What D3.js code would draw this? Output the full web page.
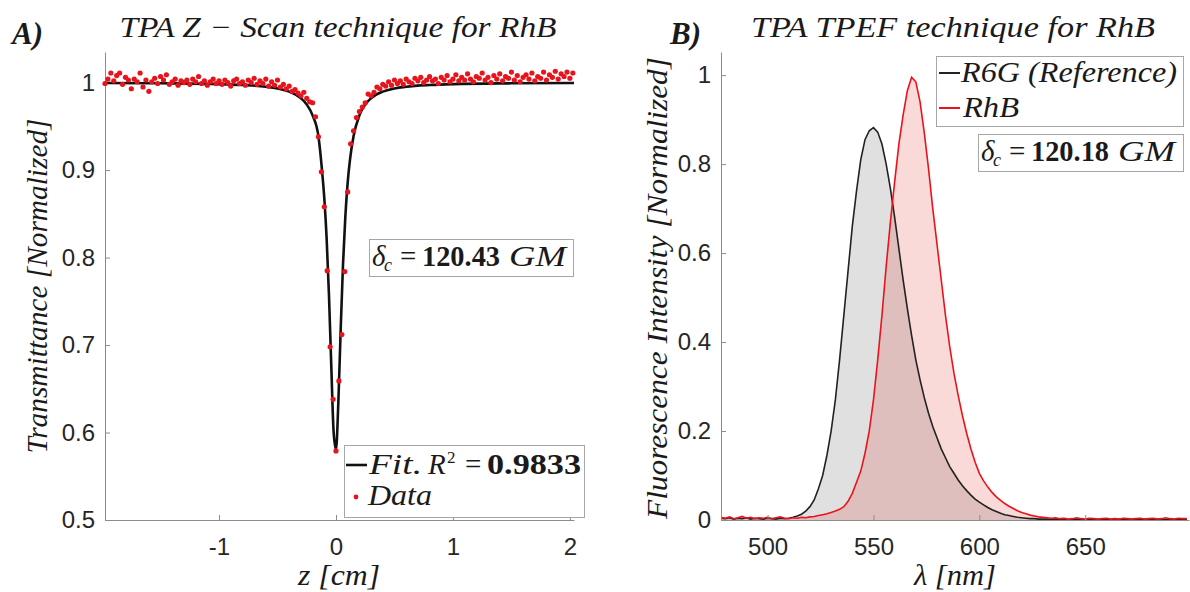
<!DOCTYPE html>
<html>
<head>
  <meta charset="utf-8">
  <title>TPA RhB</title>
  <style>
    body { margin: 0; background: #fff; }
    .tick text { font-family: "Liberation Sans", Arial, sans-serif; font-size: 24px; fill: #262626; }
    .domain, .tick line { stroke: #8c8c8c; stroke-width: 1; }
    .tex { font-style: italic; fill: #1a1a1a; }
    .bold { font-style: normal; font-weight: bold; }
    .up { font-style: normal; }
  </style>
</head>
<body>
<svg id="fig" width="1190" height="592"></svg>
<script src="https://d3js.org/d3.v7.min.js"></script>
<script>
// ---- panel A : z-scan data ----
const zPos = [
  -1.975, -1.95, -1.925, -1.9, -1.875, -1.85, -1.825, -1.8, -1.775, -1.75,
  -1.725, -1.7, -1.675, -1.65, -1.625, -1.6, -1.575, -1.55, -1.525, -1.5,
  -1.475, -1.45, -1.425, -1.4, -1.375, -1.35, -1.325, -1.3, -1.275, -1.25,
  -1.225, -1.2, -1.175, -1.15, -1.125, -1.1, -1.075, -1.05, -1.025, -1.0,
  -0.975, -0.95, -0.925, -0.9, -0.875, -0.85, -0.825, -0.8, -0.775, -0.75,
  -0.725, -0.7, -0.675, -0.65, -0.625, -0.6, -0.575, -0.55, -0.525, -0.5,
  -0.475, -0.45, -0.425, -0.4, -0.375, -0.35, -0.325, -0.3, -0.275, -0.25,
  -0.225, -0.2, -0.175, -0.15, -0.125, -0.1, -0.075, -0.05, -0.025, 0.0,
  0.025, 0.05, 0.075, 0.1, 0.125, 0.15, 0.175, 0.2, 0.225, 0.25,
  0.275, 0.3, 0.325, 0.35, 0.375, 0.4, 0.425, 0.45, 0.475, 0.5,
  0.525, 0.55, 0.575, 0.6, 0.625, 0.65, 0.675, 0.7, 0.725, 0.75,
  0.775, 0.8, 0.825, 0.85, 0.875, 0.9, 0.925, 0.95, 0.975, 1.0,
  1.025, 1.05, 1.075, 1.1, 1.125, 1.15, 1.175, 1.2, 1.225, 1.25,
  1.275, 1.3, 1.325, 1.35, 1.375, 1.4, 1.425, 1.45, 1.475, 1.5,
  1.525, 1.55, 1.575, 1.6, 1.625, 1.65, 1.675, 1.7, 1.725, 1.75,
  1.775, 1.8, 1.825, 1.85, 1.875, 1.9, 1.925, 1.95, 1.975, 2.0,
  2.025
];
const zTrans = [
  0.999, 1.004, 1.011, 1.002, 1.008, 1.011, 0.998, 1.006, 1.003, 0.993,
  1.004, 1.001, 1.011, 0.995, 1.003, 0.990, 1.001, 1.005, 0.999, 1.007,
  1.003, 1.009, 0.998, 1.001, 1.004, 0.997, 1.002, 1.000, 1.003, 0.998,
  1.004, 1.001, 1.007, 0.999, 1.002, 0.997, 1.001, 1.004, 0.999, 1.002,
  0.998, 1.003, 1.000, 0.996, 1.002, 1.004, 0.999, 1.001, 0.997, 1.003,
  1.000, 1.005, 0.998, 1.002, 0.999, 1.004, 0.996, 1.001, 0.997, 1.003,
  0.995, 0.998, 0.993, 0.996, 0.990, 0.992, 0.988, 0.985, 0.989, 0.982,
  0.978, 0.977, 0.961, 0.938, 0.898, 0.858, 0.785, 0.698, 0.638, 0.579,
  0.659, 0.712, 0.784, 0.875, 0.930, 0.945, 0.960, 0.967, 0.972, 0.977,
  0.987, 0.985, 0.989, 0.995, 0.993, 0.998, 0.996, 1.001, 0.997, 1.003,
  0.999, 1.002, 0.998, 1.004, 1.001, 0.999, 1.005, 1.002, 1.006, 1.000,
  1.003, 1.007, 1.002, 1.004, 0.999, 1.006, 1.003, 1.008, 1.001, 1.004,
  1.009, 1.002, 1.006, 1.003, 1.010, 1.004, 1.001, 1.007, 1.005, 1.011,
  1.003, 1.006, 1.000, 1.008, 1.004, 1.010, 1.002, 1.007, 1.005, 1.012,
  1.003, 1.008, 1.001, 1.006, 1.009, 1.004, 1.011, 1.002, 1.007, 1.005,
  1.012, 1.003, 1.009, 1.006, 1.013, 1.004, 1.010, 1.007, 1.012, 1.005,
  1.011
];
// fitted curve
const fitZ = [-1.975, -1.5, -1.0, -0.8, -0.6, -0.5, -0.4, -0.3, -0.25, -0.2, -0.15, -0.12, -0.1, -0.08,
  -0.06, -0.04, -0.02, 0, 0.02, 0.04, 0.06, 0.08, 0.1, 0.12, 0.15, 0.2, 0.25, 0.3, 0.4, 0.5, 0.6, 0.8,
  1.0, 1.5, 2.035];
const fitT = [0.9996, 0.9992, 0.9983, 0.9973, 0.9953, 0.9933, 0.9897, 0.9822, 0.975, 0.9625, 0.9386,
  0.9005, 0.868, 0.822, 0.757, 0.675, 0.600, 0.5805, 0.634, 0.7175, 0.792, 0.847, 0.886, 0.9123, 0.9386,
  0.9625, 0.975, 0.9822, 0.9897, 0.9933, 0.9953, 0.9973, 0.9983, 0.9992, 0.9996];
const zTicks = [-1, 0, 1, 2];
const tTicks = [0.5, 0.6, 0.7, 0.8, 0.9, 1];

// ---- panel B : TPEF spectra ----
const lambda = [
  478, 480, 482, 484, 486, 488, 490, 492, 494, 496,
  498, 500, 502, 504, 506, 508, 510, 512, 514, 516,
  518, 520, 522, 524, 526, 528, 530, 532, 534, 536,
  538, 540, 542, 544, 546, 548, 550, 552, 554, 556,
  558, 560, 562, 564, 566, 568, 570, 572, 574, 576,
  578, 580, 582, 584, 586, 588, 590, 592, 594, 596,
  598, 600, 602, 604, 606, 608, 610, 612, 614, 616,
  618, 620, 622, 624, 626, 628, 630, 632, 634, 636,
  638, 640, 642, 644, 646, 648, 650, 652, 654, 656,
  658, 660, 662, 664, 666, 668, 670, 672, 674, 676,
  678, 680, 682, 684, 686, 688, 690, 692, 694, 696,
  698
];
const r6g = [
  0.004, 0.003, 0.005, 0.002, 0.004, 0.003, 0.005, 0.002, 0.004, 0.003,
  0.002, 0.004, 0.003, 0.002, 0.004, 0.003, 0.004, 0.006, 0.009, 0.013,
  0.020, 0.030, 0.045, 0.070, 0.100, 0.145, 0.200, 0.270, 0.360, 0.460,
  0.560, 0.660, 0.740, 0.810, 0.855, 0.875, 0.882, 0.872, 0.845, 0.800,
  0.745, 0.680, 0.610, 0.540, 0.475, 0.415, 0.360, 0.315, 0.275, 0.240,
  0.210, 0.185, 0.160, 0.140, 0.120, 0.105, 0.090, 0.077, 0.066, 0.056,
  0.047, 0.040, 0.034, 0.028, 0.023, 0.019, 0.015, 0.012, 0.010, 0.008,
  0.006, 0.005, 0.004, 0.003, 0.003, 0.002, 0.002, 0.002, 0.001, 0.002,
  0.001, 0.002, 0.001, 0.001, 0.002, 0.001, 0.001, 0.002, 0.001, 0.001,
  0.001, 0.002, 0.001, 0.001, 0.002, 0.001, 0.001, 0.002, 0.001, 0.001,
  0.002, 0.001, 0.001, 0.002, 0.001, 0.001, 0.002, 0.001, 0.001, 0.002,
  0.001
];
const rhb = [
  0.006, 0.004, 0.007, 0.003, 0.005, 0.008, 0.004, 0.006, 0.003, 0.005,
  0.004, 0.006, 0.003, 0.005, 0.007, 0.004, 0.003, 0.005, 0.004, 0.006,
  0.005, 0.007, 0.008, 0.010, 0.012, 0.014, 0.017, 0.020, 0.024, 0.030,
  0.042, 0.060, 0.085, 0.110, 0.150, 0.200, 0.270, 0.360, 0.460, 0.570,
  0.670, 0.760, 0.845, 0.910, 0.965, 0.995, 0.985, 0.940, 0.870, 0.790,
  0.700, 0.620, 0.540, 0.460, 0.390, 0.330, 0.280, 0.235, 0.195, 0.160,
  0.130, 0.105, 0.088, 0.074, 0.062, 0.052, 0.044, 0.037, 0.031, 0.026,
  0.021, 0.017, 0.014, 0.011, 0.009, 0.007, 0.006, 0.005, 0.004, 0.005,
  0.003, 0.004, 0.002, 0.003, 0.005, 0.003, 0.002, 0.004, 0.003, 0.002,
  0.003, 0.004, 0.002, 0.003, 0.002, 0.004, 0.003, 0.002, 0.003, 0.004,
  0.002, 0.003, 0.004, 0.002, 0.003, 0.005, 0.003, 0.002, 0.004, 0.003,
  0.003
];
const lamTicks = [500, 550, 600, 650];
const fTicks = [0, 0.2, 0.4, 0.6, 0.8, 1];

const serif = "Liberation Serif";
const svg = d3.select("#fig");
const red = "#e8141c";

function bottomAxis(g, scale, ticks) {
  g.call(d3.axisBottom(scale).tickValues(ticks).tickFormat(d => String(d))
    .tickSizeInner(-5).tickSizeOuter(0).tickPadding(18));
}
function leftAxis(g, scale, ticks) {
  g.call(d3.axisLeft(scale).tickValues(ticks).tickFormat(d => String(d))
    .tickSizeInner(-5).tickSizeOuter(0).tickPadding(10));
}
function tex(x, y, size) {
  return svg.append("text").attr("class", "tex").attr("font-family", serif)
    .attr("font-size", size).attr("x", x).attr("y", y);
}
function label(x, y, txt, size, len, rot) {
  const t = svg.append("text").attr("class", "tex").attr("font-family", serif)
    .attr("text-anchor", "middle")
    .attr("font-size", size)
    .attr("textLength", len).attr("lengthAdjust", "spacingAndGlyphs")
    .text(txt);
  if (rot) t.attr("transform", "translate(" + x + "," + y + ") rotate(-90)");
  else t.attr("x", x).attr("y", y);
  return t;
}

// ================= panel A =================
const xA = d3.scaleLinear().domain([-1.975, 2.035]).range([105, 574]);
const yA = d3.scaleLinear().domain([0.5, 1.035]).range([520, 52]);

svg.append("g").attr("transform", "translate(0,520)").call(bottomAxis, xA, zTicks);
svg.append("g").attr("transform", "translate(105,0)").call(leftAxis, yA, tTicks);

const fitLine = d3.line().x((d, i) => xA(fitZ[i])).y(d => yA(d)).curve(d3.curveMonotoneX);
svg.append("path").attr("d", fitLine(fitT))
  .attr("fill", "none").attr("stroke", "#111").attr("stroke-width", 2.6);

svg.append("g").selectAll("circle")
  .data(zTrans)
  .enter()
  .append("circle")
  .attr("cx", (d, i) => xA(zPos[i]))
  .attr("cy", d => yA(d))
  .attr("r", 2.6)
  .attr("fill", red);

// titles & labels
tex(12, 44, 31).attr("font-weight", "bold").text("A)");
label(338, 37, "TPA Z − Scan technique for RhB", 29, 437);
label(339, 585, "z [cm]", 29, 82);
label(47, 286, "Transmittance [Normalized]", 29, 335, true);

// delta box A
svg.append("rect").attr("x", 369.5).attr("y", 239.5).attr("width", 204).attr("height", 37)
  .attr("fill", "#fff").attr("stroke", "#a6a6a6");
const dA = tex(0, 266, 29);
dA.append("tspan").attr("x", 372).text("δ");
dA.append("tspan").attr("x", 384).attr("dy", 5).attr("font-size", 18).text("c");
dA.append("tspan").attr("x", 400).attr("dy", -5).attr("class", "up").text("=");
dA.append("tspan").attr("x", 422).attr("class", "bold")
  .attr("textLength", 78).attr("lengthAdjust", "spacingAndGlyphs").text("120.43");
dA.append("tspan").attr("x", 509).attr("textLength", 57).attr("lengthAdjust", "spacingAndGlyphs").text("GM");

// legend A
svg.append("rect").attr("x", 344.5).attr("y", 445.5).attr("width", 240).attr("height", 72)
  .attr("fill", "#fff").attr("stroke", "#a6a6a6");
svg.append("line").attr("x1", 346).attr("x2", 367).attr("y1", 465).attr("y2", 465)
  .attr("stroke", "#111").attr("stroke-width", 2.6);
const lA = tex(0, 474, 29);
lA.append("tspan").attr("x", 369).attr("textLength", 53).attr("lengthAdjust", "spacingAndGlyphs").text("Fit.");
lA.append("tspan").attr("x", 428).text("R");
lA.append("tspan").attr("x", 447).attr("dy", -11).attr("font-size", 17).attr("class", "up").text("2");
lA.append("tspan").attr("x", 465).attr("dy", 11).attr("class", "up").text("=");
lA.append("tspan").attr("x", 487).attr("class", "bold")
  .attr("textLength", 94).attr("lengthAdjust", "spacingAndGlyphs").text("0.9833");
svg.append("circle").attr("cx", 356).attr("cy", 497).attr("r", 2.4).attr("fill", red);
tex(368, 505, 29).attr("textLength", 64).attr("lengthAdjust", "spacingAndGlyphs").text("Data");

// ================= panel B =================
const xB = d3.scaleLinear().domain([478, 699]).range([721, 1189]);
const yB = d3.scaleLinear().domain([0, 1.052]).range([520, 52]);

svg.append("defs").append("clipPath").attr("id", "clipB")
  .append("rect").attr("x", 721).attr("y", 40).attr("width", 469).attr("height", 480);

const areaB = d3.area().x((d, i) => xB(lambda[i])).y0(yB(0)).y1(d => yB(d));
const lineB = d3.line().x((d, i) => xB(lambda[i])).y(d => yB(d));

const plotB = svg.append("g").attr("clip-path", "url(#clipB)");
plotB.append("path").attr("d", areaB(r6g)).attr("fill", "#000").attr("fill-opacity", 0.12);
plotB.append("path").attr("d", areaB(rhb)).attr("fill", "#dc0000").attr("fill-opacity", 0.15);
plotB.append("path").attr("d", lineB(r6g)).attr("fill", "none").attr("stroke", "#222").attr("stroke-width", 1.6);
plotB.append("path").attr("d", lineB(rhb)).attr("fill", "none").attr("stroke", red).attr("stroke-width", 1.6);

svg.append("g").attr("transform", "translate(0,520)").call(bottomAxis, xB, lamTicks);
svg.append("g").attr("transform", "translate(721,0)").call(leftAxis, yB, fTicks);

tex(670, 44, 31).attr("font-weight", "bold").text("B)");
label(953, 37, "TPA TPEF technique for RhB", 29, 404);
label(955, 585, "λ [nm]", 29, 82);
label(667, 288, "Fluorescence Intensity [Normalized]", 29, 462, true);

// legend B
svg.append("rect").attr("x", 936.5).attr("y", 56.5).attr("width", 247).attr("height", 70)
  .attr("fill", "#fff").attr("stroke", "#a6a6a6");
svg.append("line").attr("x1", 939).attr("x2", 960).attr("y1", 73).attr("y2", 73)
  .attr("stroke", "#222").attr("stroke-width", 2);
svg.append("line").attr("x1", 939).attr("x2", 960).attr("y1", 108).attr("y2", 108)
  .attr("stroke", red).attr("stroke-width", 2);
tex(961, 82, 29).attr("textLength", 216).attr("lengthAdjust", "spacingAndGlyphs").text("R6G (Reference)");
tex(963, 117, 29).attr("textLength", 56).attr("lengthAdjust", "spacingAndGlyphs").text("RhB");

// delta box B
svg.append("rect").attr("x", 978.5).attr("y", 134.5).attr("width", 205).attr("height", 37)
  .attr("fill", "#fff").attr("stroke", "#a6a6a6");
const dB = tex(0, 161, 29);
dB.append("tspan").attr("x", 981).text("δ");
dB.append("tspan").attr("x", 993).attr("dy", 5).attr("font-size", 18).text("c");
dB.append("tspan").attr("x", 1009).attr("dy", -5).attr("class", "up").text("=");
dB.append("tspan").attr("x", 1031).attr("class", "bold")
  .attr("textLength", 78).attr("lengthAdjust", "spacingAndGlyphs").text("120.18");
dB.append("tspan").attr("x", 1118).attr("textLength", 57).attr("lengthAdjust", "spacingAndGlyphs").text("GM");
</script>
</body>
</html>
